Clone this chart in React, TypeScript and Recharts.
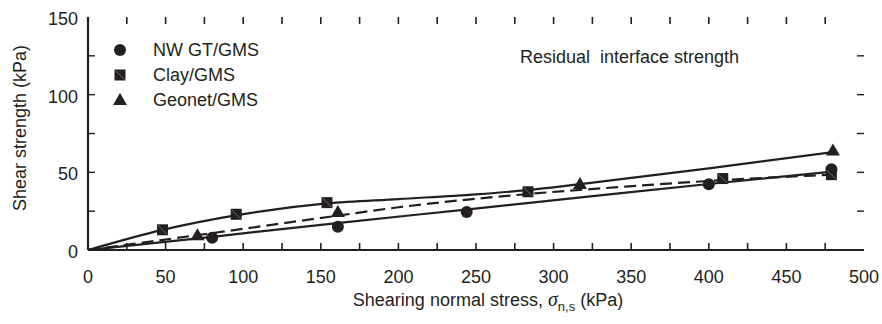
import { ComposedChart, Line, Scatter, XAxis, YAxis, Legend, Label } from "recharts"

const INK = "#231f20"
const FONT = '"Liberation Sans", Arial, Helvetica, sans-serif'

// tick positions (every 25, labels on every 50)
const xTicks = [0, 25, 50, 75, 100, 125, 150, 175, 200, 225, 250, 275, 300, 325, 350, 375, 400, 425, 450, 475, 500]
const yTicks = [0, 25, 50, 75, 100, 125, 150]

// measured points
const nwPoints = [
  { x: 80, y: 7.9 },
  { x: 161, y: 15 },
  { x: 244, y: 24.5 },
  { x: 400, y: 42.3 },
  { x: 479, y: 52 },
]
const clayPoints = [
  { x: 48, y: 13 },
  { x: 95.5, y: 23 },
  { x: 154, y: 30.5 },
  { x: 283.5, y: 37.5 },
  { x: 409, y: 46 },
  { x: 479, y: 48.5 },
]
const geonetPoints = [
  { x: 70.5, y: 9.5 },
  { x: 161, y: 24.5 },
  { x: 317, y: 42.5 },
  { x: 480, y: 64 },
]

// fitted envelopes
const upperFit = [
  { x: 0, y: 0 },
  { x: 48, y: 13 },
  { x: 96, y: 22.5 },
  { x: 154, y: 30 },
  { x: 200, y: 32.8 },
  { x: 250, y: 35.8 },
  { x: 283, y: 38.5 },
  { x: 316, y: 42.2 },
  { x: 400, y: 52.5 },
  { x: 480, y: 63 },
]
const dashedFit = [
  { x: 0, y: 0 },
  { x: 70, y: 9.5 },
  { x: 160, y: 22 },
  { x: 200, y: 27.5 },
  { x: 283, y: 36 },
  { x: 342, y: 40.5 },
  { x: 409, y: 45 },
  { x: 480, y: 48.5 },
]
const lowerFit = [
  { x: 0, y: 0 },
  { x: 80, y: 8.5 },
  { x: 162, y: 17.5 },
  { x: 245, y: 26.2 },
  { x: 342, y: 36.5 },
  { x: 400, y: 42.5 },
  { x: 480, y: 50.5 },
]

const legendItems = [
  { name: "NW GT/GMS", marker: "circle" },
  { name: "Clay/GMS", marker: "square" },
  { name: "Geonet/GMS", marker: "triangle" },
]

// tick length in data units (~7 px)
const X_TICK_LEN = 4.5

function Marker({ kind, cx, cy }: { kind: string; cx: number; cy: number }) {
  if (kind === "circle") return <circle cx={cx} cy={cy} r={6} fill={INK} />
  if (kind === "square")
    return (
      <g>
        <rect x={cx - 5.5} y={cy - 5.5} width={11} height={11} fill={INK} />
        <line x1={cx - 4.5} y1={cy - 4.5} x2={cx + 4.5} y2={cy + 4.5} stroke="#8a8a8a" strokeWidth={0.7} />
      </g>
    )
  return <polygon points={`${cx},${cy - 7} ${cx + 7},${cy + 5} ${cx - 7},${cy + 5}`} fill={INK} />
}

// inward ticks on the left/right edges
const TICK = 7
const tickRight = (p: any) => <rect x={p.cx} y={p.cy - 0.7} width={TICK} height={1.4} fill={INK} />
const tickLeft = (p: any) => <rect x={p.cx - TICK} y={p.cy - 0.7} width={TICK} height={1.4} fill={INK} />

const PLOT_BOTTOM = 250
const PLOT_LEFT = 88

const BottomLabel = (p: any) =>
  p.payload.value % 50 === 0 ? (
    <text x={p.x} y={PLOT_BOTTOM + 33} textAnchor="middle" fontSize={18} fill={INK} fontFamily={FONT}>
      {p.payload.value}
    </text>
  ) : (
    <g />
  )
const LeftLabel = (p: any) =>
  p.payload.value % 50 === 0 ? (
    <text x={PLOT_LEFT - 10} y={p.y + 8} textAnchor="end" fontSize={18} fill={INK} fontFamily={FONT}>
      {p.payload.value}
    </text>
  ) : (
    <g />
  )

function LegendBox() {
  return (
    <div style={{ fontFamily: FONT, fontSize: 18, color: INK }}>
      {legendItems.map((it) => (
        <div key={it.name} style={{ display: "flex", alignItems: "center", height: 25 }}>
          <svg width={20} height={20} style={{ display: "block" }}>
            <Marker kind={it.marker} cx={10} cy={10} />
          </svg>
          <span style={{ marginLeft: 23, lineHeight: "20px" }}>{it.name}</span>
        </div>
      ))}
    </div>
  )
}

const XTitle = (props: any) => {
  const vb = props.viewBox
  const cx = vb.x + vb.width / 2 + 12
  return (
    <text x={cx} y={PLOT_BOTTOM + 56} textAnchor="middle" fontSize={18} fill={INK} fontFamily={FONT}>
      Shearing normal stress,{" "}
      <tspan fontFamily='"Liberation Serif", "Times New Roman", serif' fontStyle="italic" fontSize={20}>
        σ
      </tspan>
      <tspan fontSize={13} dy={5}>n,s</tspan>
      <tspan dy={-5}> (kPa)</tspan>
    </text>
  )
}

const YTitle = () => {
  const tx = 26
  const ty = 128
  return (
    <text
      x={tx}
      y={ty}
      transform={`rotate(-90, ${tx}, ${ty})`}
      textAnchor="middle"
      fontSize={18}
      fill={INK}
      fontFamily={FONT}
    >
      Shear strength (kPa)
    </text>
  )
}

const frame = { stroke: INK, strokeWidth: 2.2 }

export default function App() {
  const innerX = xTicks.slice(1, -1)
  const innerY = yTicks.slice(1, -1)
  const leftTicks = innerY.map((t) => ({ x: 0, y: t }))
  const rightTicks = innerY.map((t) => ({ x: 500, y: t }))
  return (
    <div style={{ width: 882, height: 324, background: "#fff" }}>
      <style>{`body{margin:0}`}</style>
      <ComposedChart width={882} height={324} margin={{ top: 17, right: 18, bottom: 0, left: 0 }}>
        <XAxis
          xAxisId="b"
          dataKey="x"
          type="number"
          domain={[0, 500]}
          ticks={xTicks}
          interval={0}
          height={74}
          tickSize={0}
          tickMargin={0}
          tickLine={false}
          axisLine={frame}
          tick={BottomLabel}
        >
          <Label content={XTitle} />
        </XAxis>
        <XAxis
          xAxisId="t"
          orientation="top"
          type="number"
          domain={[0, 500]}
          height={0}
          tick={false}
          tickLine={false}
          axisLine={frame}
        />
        <YAxis
          yAxisId="l"
          dataKey="y"
          type="number"
          domain={[0, 150]}
          ticks={yTicks}
          interval={0}
          width={88}
          tickSize={0}
          tickMargin={0}
          tickLine={false}
          axisLine={frame}
          tick={LeftLabel}
        >
          <Label content={YTitle} />
        </YAxis>
        <YAxis
          yAxisId="r"
          orientation="right"
          type="number"
          domain={[0, 150]}
          width={0}
          tick={false}
          tickLine={false}
          axisLine={frame}
        />

        {/* inward tick marks: bottom and top as short two-point lines */}
        {innerX.map((t) => (
          <Line
            key={`b${t}`}
            xAxisId="b"
            yAxisId="l"
            data={[{ x: t, y: 0 }, { x: t, y: X_TICK_LEN }]}
            dataKey="y"
            type="linear"
            stroke={INK}
            strokeWidth={1.6}
            dot={false}
            activeDot={false}
            legendType="none"
            isAnimationActive={false}
          />
        ))}
        {innerX.map((t) => (
          <Line
            key={`t${t}`}
            xAxisId="b"
            yAxisId="l"
            data={[{ x: t, y: 150 - X_TICK_LEN }, { x: t, y: 150 }]}
            dataKey="y"
            type="linear"
            stroke={INK}
            strokeWidth={1.6}
            dot={false}
            activeDot={false}
            legendType="none"
            isAnimationActive={false}
          />
        ))}
        <Scatter xAxisId="b" yAxisId="l" data={leftTicks} shape={tickRight} isAnimationActive={false} legendType="none" />
        <Scatter xAxisId="b" yAxisId="l" data={rightTicks} shape={tickLeft} isAnimationActive={false} legendType="none" />

        <Line
          xAxisId="b"
          yAxisId="l"
          data={upperFit}
          dataKey="y"
          type="monotone"
          stroke={INK}
          strokeWidth={2.2}
          dot={false}
          isAnimationActive={false}
        />
        <Line
          xAxisId="b"
          yAxisId="l"
          data={dashedFit}
          dataKey="y"
          type="monotone"
          stroke={INK}
          strokeWidth={2.2}
          strokeDasharray="12 6"
          dot={false}
          isAnimationActive={false}
        />
        <Line
          xAxisId="b"
          yAxisId="l"
          data={lowerFit}
          dataKey="y"
          type="monotone"
          stroke={INK}
          strokeWidth={2.2}
          dot={false}
          isAnimationActive={false}
        />
        <Scatter
          xAxisId="b"
          yAxisId="l"
          name="NW GT/GMS"
          data={nwPoints}
          shape={(p: any) => <Marker kind="circle" cx={p.cx} cy={p.cy} />}
          isAnimationActive={false}
        />
        <Scatter
          xAxisId="b"
          yAxisId="l"
          name="Clay/GMS"
          data={clayPoints}
          shape={(p: any) => <Marker kind="square" cx={p.cx} cy={p.cy} />}
          isAnimationActive={false}
        />
        <Scatter
          xAxisId="b"
          yAxisId="l"
          name="Geonet/GMS"
          data={geonetPoints}
          shape={(p: any) => <Marker kind="triangle" cx={p.cx} cy={p.cy} />}
          isAnimationActive={false}
        />
        <Legend
          layout="horizontal"
          verticalAlign="middle"
          align="center"
          wrapperStyle={{ left: 110, top: 37, width: 200, height: 75 }}
          content={() => <LegendBox />}
        />
        <text x={520} y={63} fontSize={18} fill={INK} fontFamily={FONT} style={{ whiteSpace: "pre" }}>
          {"Residual  interface strength"}
        </text>
      </ComposedChart>
    </div>
  )
}
